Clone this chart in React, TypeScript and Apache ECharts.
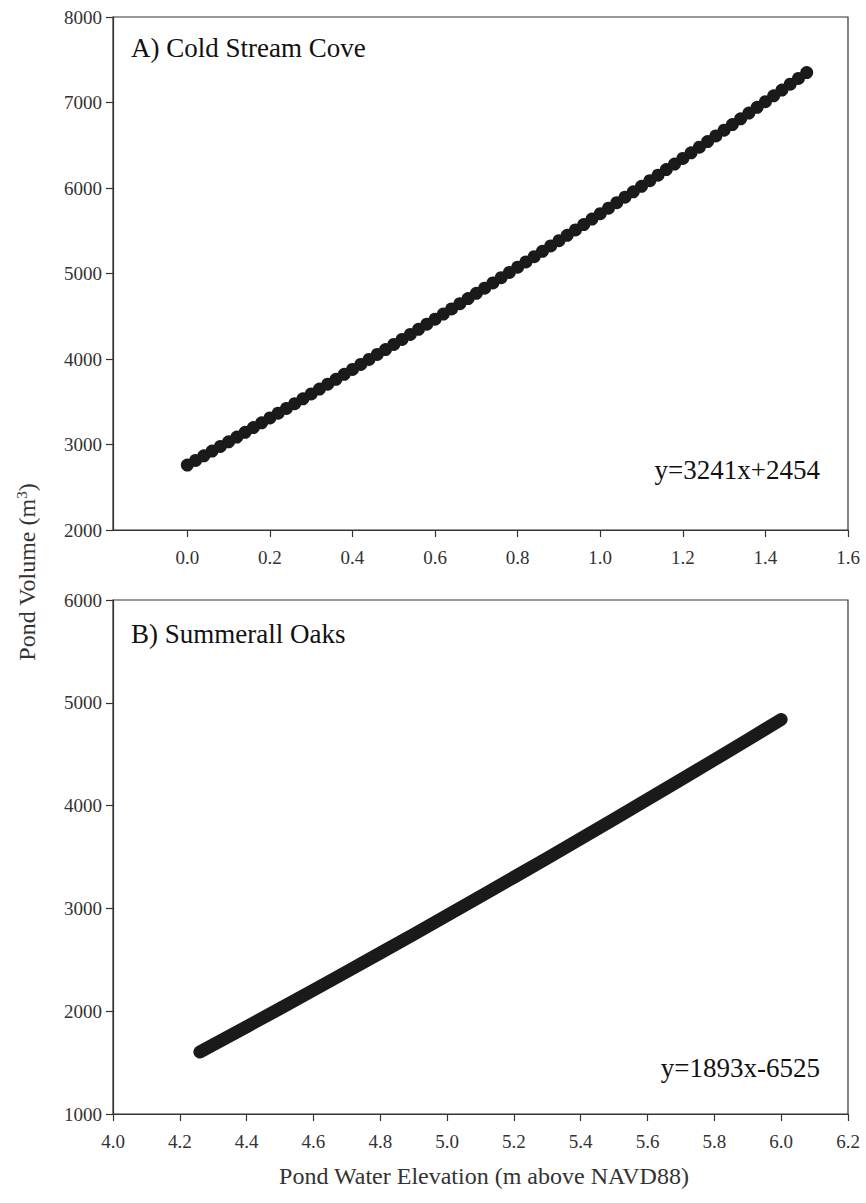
import { useEffect, useRef } from "react";
import * as echarts from "echarts";

// Panel A: Cold Stream Cove
const elevA = [
  0, 0.02, 0.04, 0.06, 0.08, 0.1, 0.12, 0.14, 0.16, 0.18,
  0.2, 0.22, 0.24, 0.26, 0.28, 0.3, 0.32, 0.34, 0.36, 0.38,
  0.4, 0.42, 0.44, 0.46, 0.48, 0.5, 0.52, 0.54, 0.56, 0.58,
  0.6, 0.62, 0.64, 0.66, 0.68, 0.7, 0.72, 0.74, 0.76, 0.78,
  0.8, 0.82, 0.84, 0.86, 0.88, 0.9, 0.92, 0.94, 0.96, 0.98,
  1.0, 1.02, 1.04, 1.06, 1.08, 1.1, 1.12, 1.14, 1.16, 1.18,
  1.2, 1.22, 1.24, 1.26, 1.28, 1.3, 1.32, 1.34, 1.36, 1.38,
  1.4, 1.42, 1.44, 1.46, 1.48, 1.5,
];
const volA = [
  2760, 2814, 2868, 2923, 2978, 3032, 3087, 3143, 3198, 3254,
  3310, 3366, 3422, 3478, 3535, 3592, 3649, 3706, 3763, 3821,
  3878, 3936, 3995, 4053, 4111, 4170, 4229, 4288, 4347, 4407,
  4466, 4526, 4586, 4647, 4707, 4768, 4828, 4889, 4951, 5012,
  5074, 5135, 5197, 5260, 5322, 5384, 5447, 5510, 5573, 5637,
  5700, 5764, 5828, 5892, 5956, 6020, 6085, 6150, 6215, 6280,
  6346, 6411, 6477, 6543, 6609, 6676, 6742, 6809, 6876, 6943,
  7010, 7078, 7146, 7214, 7282, 7350,
];

// Panel B: Summerall Oaks
const elevB = [4.26, 4.3, 4.4, 4.5, 4.6, 4.7, 4.8, 4.9, 5.0, 5.1, 5.2, 5.3, 5.4, 5.5, 5.6, 5.7, 5.8, 5.9, 6.0];
const volB = [1603, 1673, 1849, 2026, 2205, 2385, 2566, 2748, 2932, 3117, 3303, 3490, 3679, 3869, 4060, 4252, 4446, 4641, 4837];

const xTicksA = [0, 0.2, 0.4, 0.6, 0.8, 1.0, 1.2, 1.4, 1.6];
const xTicksB = [4.0, 4.2, 4.4, 4.6, 4.8, 5.0, 5.2, 5.4, 5.6, 5.8, 6.0, 6.2];

const labelA = "A) Cold Stream Cove";
const labelB = "B) Summerall Oaks";
const eqA = "y=3241x+2454";
const eqB = "y=1893x-6525";
const xTitle = "Pond Water Elevation (m above NAVD88)";

const FONT = "Liberation Serif";
const INK = "#1a1a1a";
const TXT = "#333";

export default function App() {
  const ref = useRef<HTMLDivElement>(null);
  useEffect(() => {
    if (!ref.current) return;
    const chart = echarts.init(ref.current, undefined, { renderer: "svg" });
    const axisCommon = {
      axisLine: { show: true, onZero: false, lineStyle: { color: "#333", width: 1.2 } },
      axisTick: { show: true, inside: false, length: 7, lineStyle: { color: "#333", width: 1.2 } },
      splitLine: { show: false },
    };
    const xLabel = (vals: number[]) => ({
      customValues: vals,
      margin: 18,
      fontSize: 19,
      fontFamily: FONT,
      color: TXT,
      formatter: (v: number) => v.toFixed(1),
    });
    const yLabel = {
      margin: 11,
      fontSize: 19,
      fontFamily: FONT,
      color: TXT,
      formatter: (v: number) => String(v),
    };
    const textStyle = (text: string, size: number, align: string) => ({
      text,
      font: `${size}px ${FONT}`,
      fontSize: size,
      fontFamily: FONT,
      fill: "#111",
      align,
      verticalAlign: "middle",
    });
    chart.setOption({
      animation: false,
      backgroundColor: "#fff",
      grid: [
        { left: 113, right: 18, top: 17, height: 513, show: true, borderColor: "#333", borderWidth: 1.2 },
        { left: 113, right: 18, top: 600, height: 514, show: true, borderColor: "#333", borderWidth: 1.2 },
      ],
      xAxis: [
        {
          type: "value", gridIndex: 0, min: -0.18, max: 1.6, ...axisCommon,
          axisTick: { ...axisCommon.axisTick, customValues: xTicksA },
          axisLabel: xLabel(xTicksA),
        },
        {
          type: "value", gridIndex: 1, min: 4.0, max: 6.2, ...axisCommon,
          axisTick: { ...axisCommon.axisTick, customValues: xTicksB },
          axisLabel: xLabel(xTicksB),
        },
      ],
      yAxis: [
        { type: "value", gridIndex: 0, min: 2000, max: 8000, interval: 1000, ...axisCommon, axisLabel: yLabel },
        { type: "value", gridIndex: 1, min: 1000, max: 6000, interval: 1000, ...axisCommon, axisLabel: yLabel },
      ],
      series: [
        {
          type: "scatter", xAxisIndex: 0, yAxisIndex: 0,
          data: elevA.map((x, i) => [x, volA[i]]),
          symbol: "circle", symbolSize: 13,
          itemStyle: { color: INK, opacity: 1 },
        },
        {
          type: "line", xAxisIndex: 1, yAxisIndex: 1,
          data: elevB.map((x, i) => [x, volB[i]]),
          showSymbol: false, symbol: "none",
          lineStyle: { color: INK, width: 13, cap: "round", join: "round", opacity: 1 },
        },
      ],
      graphic: [
        { type: "text", x: 131, y: 48, style: textStyle(labelA, 27, "left") },
        { type: "text", x: 131, y: 634, style: textStyle(labelB, 27, "left") },
        { type: "text", x: 820, y: 470, style: textStyle(eqA, 27, "right") },
        { type: "text", x: 820, y: 1068, style: textStyle(eqB, 27, "right") },
        { type: "text", x: 484, y: 1176, style: { ...textStyle(xTitle, 24, "center"), fill: TXT } },
        {
          type: "text", x: 27, y: 572, rotation: Math.PI / 2,
          style: {
            text: "{a|Pond Volume (m}{s|3}{a|)}",
            align: "center", verticalAlign: "middle",
            rich: {
              a: { fontSize: 24, fontFamily: FONT, fill: TXT, color: TXT },
              s: { fontSize: 15, fontFamily: FONT, fill: TXT, color: TXT, verticalAlign: "top", padding: [0, 0, 11, 0] },
            },
          },
        },
      ],
    });
    return () => chart.dispose();
  }, []);
  return (
    <div
      ref={ref}
      style={{ position: "absolute", left: 0, top: 0, width: 866, height: 1203, background: "#fff" }}
    />
  );
}
